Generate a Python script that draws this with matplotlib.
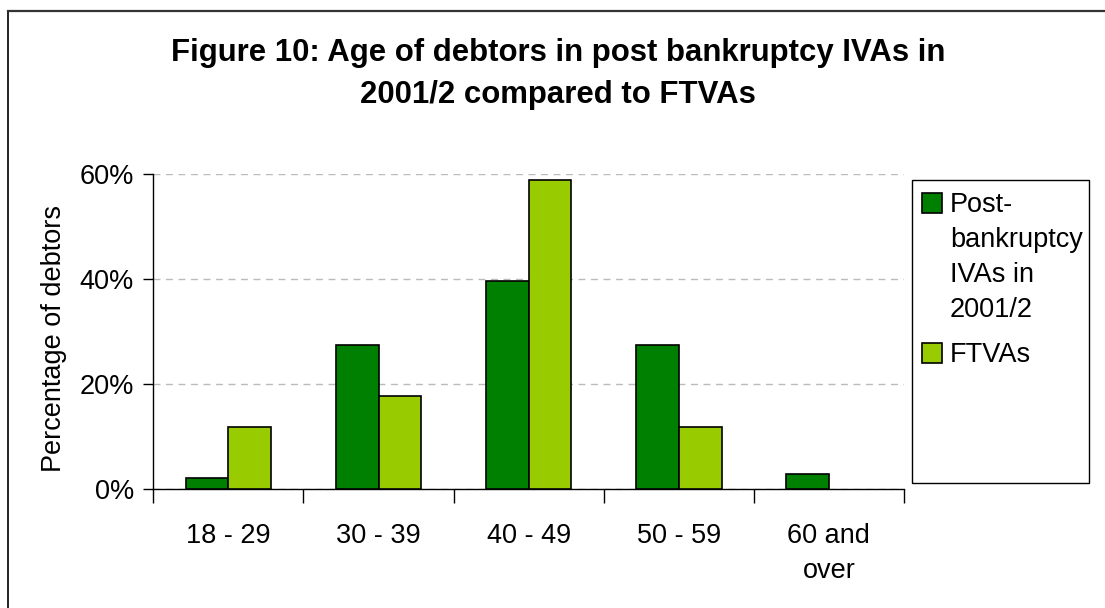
import matplotlib
matplotlib.use("Agg")
import matplotlib.pyplot as plt
from matplotlib.patches import Rectangle
from matplotlib.lines import Line2D
import numpy as np

plt.rcParams['font.family'] = ['Liberation Sans', 'DejaVu Sans']

categories = ["18 - 29", "30 - 39", "40 - 49", "50 - 59", "60 and\nover"]
post_bankruptcy = [2.2, 27.5, 39.7, 27.5, 3.0]
ftvas = [11.9, 17.8, 59.0, 11.9, 0.0]
series_names = ["Post-\nbankruptcy\nIVAs in\n2001/2", "FTVAs"]
yticks = [0, 20, 40, 60]
title = "Figure 10: Age of debtors in post bankruptcy IVAs in\n2001/2 compared to FTVAs"

W, H = 1105, 608
FS = 19.5
fig = plt.figure(figsize=(W / 100, H / 100), dpi=100)
fig.patch.set_facecolor("white")


def fx(px):
    return px / W


def fy(py):
    return 1 - py / H


ax = fig.add_axes([fx(153.3), fy(489.3), (904 - 153.3) / W, (489.3 - 174.3) / H])

x = np.arange(len(categories))
bw = 0.285
dark = "#008000"
light = "#99CC00"
colors = [dark, light]
b1 = ax.bar(x - bw / 2, post_bankruptcy, bw, color=dark, edgecolor="black", linewidth=1.2, zorder=3)
b2 = ax.bar(x + bw / 2, ftvas, bw, color=light, edgecolor="black", linewidth=1.2, zorder=3)
for container in (b1, b2):
    for rect in container:
        if rect.get_height() == 0:
            rect.set_visible(False)

ax.set_xlim(-0.5, len(categories) - 0.5)
ax.set_ylim(0, 60)
ax.set_yticks(yticks)
ax.set_yticklabels([f"{v}%" for v in yticks])
ax.yaxis.grid(True, linestyle=(0, (5, 4)), color="#bbbbbb", linewidth=1.0, zorder=0)

ax.set_xticks(x)
ax.set_xticklabels(categories, linespacing=1.47)
ax.set_xticks(np.arange(-0.5, len(categories)), minor=True)
ax.tick_params(axis="x", which="major", length=0, pad=24, labelsize=FS)
ax.tick_params(axis="x", which="minor", length=10, width=1.0, direction="out")
ax.tick_params(axis="y", length=7, width=1.0, labelsize=FS, pad=7)

for s in ("top", "right"):
    ax.spines[s].set_visible(False)
for s in ("left", "bottom"):
    ax.spines[s].set_color("black")
    ax.spines[s].set_linewidth(1.0)

ax.set_ylabel("Percentage of debtors", fontsize=FS)
ax.yaxis.set_label_coords((67 - 153.3) / (904 - 153.3), (489.3 - 338) / 315)

fig.text(fx(558), fy(74), title, ha="center", va="center",
         fontsize=22.4, fontweight="bold", linespacing=1.5)

# legend frame
fig.add_artist(Rectangle((fx(912), fy(483)), (1089 - 912) / W, (483 - 180) / H,
                         transform=fig.transFigure, fill=False, edgecolor="black",
                         linewidth=1.0))
# legend entries: swatch aligned with first text line
entry_baselines = [211.7, 361.7]
line_step = 35
for name, col, base in zip(series_names, colors, entry_baselines):
    top = base - 18.5
    fig.add_artist(Rectangle((fx(922), fy(top + 20)), 20 / W, 20 / H,
                             transform=fig.transFigure, facecolor=col,
                             edgecolor="black", linewidth=1.2))
    for i, line in enumerate(name.split("\n")):
        fig.text(fx(950), fy(base + i * line_step), line, ha="left", va="baseline",
                 fontsize=FS)

# outer border
fig.add_artist(Line2D([fx(7.5), fx(7.5)], [0, fy(11)], transform=fig.transFigure,
                      color="black", linewidth=1.2))
fig.add_artist(Line2D([fx(7.5), 1], [fy(11), fy(11)], transform=fig.transFigure,
                      color="#333333", linewidth=1.6))

fig.savefig("out.png", dpi=100)
